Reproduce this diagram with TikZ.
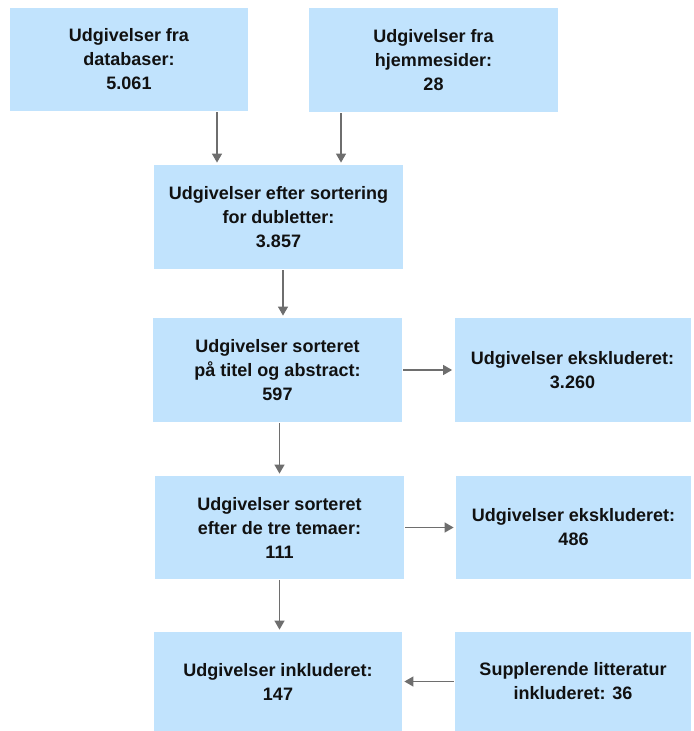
\documentclass[tikz,border=0pt]{standalone}
\usepackage{fontspec}
\setmainfont{Liberation Sans}
\usetikzlibrary{arrows.meta,positioning}
\definecolor{boxBlue}{HTML}{C1E3FD}
\definecolor{arrowGrey}{HTML}{6E6E6E}
\definecolor{textBlack}{HTML}{111111}
\tikzset{
  flowbox/.style={fill=boxBlue,draw=none,inner sep=0pt,align=center,
    font=\fontsize{9}{12}\selectfont\bfseries,text=textBlack},
  flowarrow/.style={draw=arrowGrey,line width=0.65pt,
    -{Triangle[width=5pt,length=4.5pt]},shorten <=0.5pt,shorten >=1pt}
}

\begin{document}
\begin{tikzpicture}[x=0.5pt,y=-0.5pt]
\useasboundingbox (0,0) rectangle (693,731);
% sources
\node[flowbox,minimum width=119pt,minimum height=51.5pt] (db) at (129,59.5)
  {Udgivelser fra\\databaser:\\5.061};
\node[flowbox,minimum width=124.5pt,minimum height=52pt] (web) at (433.5,60)
  {Udgivelser fra\\hjemmesider:\\28};
% screening steps
\node[flowbox,minimum width=124.5pt,minimum height=52pt] (dedup) at (278.5,217)
  {Udgivelser efter sortering\\for dubletter:\\3.857};
\node[flowbox,minimum width=124.5pt,minimum height=52pt] (screen) at (277.5,370)
  {Udgivelser sorteret\\på titel og abstract:\\597};
\node[flowbox,minimum width=118pt,minimum height=52pt] (excla) at (572.5,370)
  {Udgivelser ekskluderet:\\3.260};
\node[flowbox,minimum width=124.5pt,minimum height=51.5pt] (themes) at (279.5,527.5)
  {Udgivelser sorteret\\efter de tre temaer:\\111};
\node[flowbox,minimum width=117.5pt,minimum height=51.5pt] (exclb) at (573.5,527.5)
  {Udgivelser ekskluderet:\\486};
% result
\node[flowbox,minimum width=124pt,minimum height=49.5pt] (incl) at (278,681.5)
  {Udgivelser inkluderet:\\147};
\node[flowbox,minimum width=118pt,minimum height=49.5pt] (suppl) at (573,681.5)
  {Supplerende litteratur\\inkluderet: 36};

\draw[flowarrow] ([xshift=44pt]db.south) -- ([xshift=44pt]db.south |- dedup.north);
\draw[flowarrow] ([xshift=-46.25pt]web.south) -- ([xshift=-46.25pt]web.south |- dedup.north);
\draw[flowarrow] ([xshift=2.25pt]dedup.south) -- ([xshift=2.25pt]dedup.south |- screen.north);
\draw[flowarrow] ([xshift=1pt]screen.south) -- ([xshift=1pt]screen.south |- themes.north);
\draw[flowarrow] (screen.east) -- (excla.west);
\draw[flowarrow] (themes.south) -- (themes.south |- incl.north);
\draw[flowarrow] (themes.east) -- (exclb.west);
\draw[flowarrow] (suppl.west) -- (incl.east);
\end{tikzpicture}
\end{document}
